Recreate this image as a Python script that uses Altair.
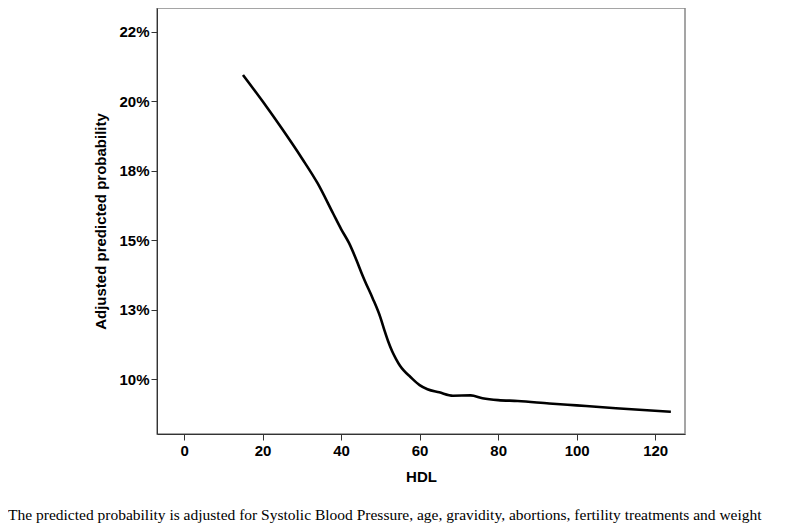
import altair as alt
import pandas as pd

hdl = [15, 20, 25, 30, 34, 38, 40, 42, 44, 45.2, 46, 48, 50, 51, 52, 53, 54, 55, 56,
       57.6, 60, 62, 65, 68.5, 73, 76, 80, 85, 93, 100, 110, 124]
prob = [0.2095, 0.2000, 0.1900, 0.1795, 0.1705, 0.1595, 0.1540, 0.1490, 0.1425,
        0.1382, 0.1355, 0.1292, 0.1222, 0.1177, 0.1135, 0.1100, 0.1072, 0.1048,
        0.1030, 0.1008, 0.0978, 0.0963, 0.0952, 0.0940, 0.0941, 0.0931, 0.0924,
        0.0921, 0.0912, 0.0905, 0.0895, 0.0882]

x_ticks = [0, 20, 40, 60, 80, 100, 120]
y_ticks = [0.100, 0.125, 0.150, 0.175, 0.200, 0.225]
y_labels = ["10%", "13%", "15%", "18%", "20%", "22%"]

caption = ("The predicted probability is adjusted for Systolic Blood Pressure, age, "
           "gravidity, abortions, fertility treatments and weight")

df = pd.DataFrame({"HDL": hdl, "prob": prob})

label_expr = " : ".join(
    f"abs(datum.value - {v}) < 0.001 ? '{l}'" for v, l in zip(y_ticks, y_labels)
) + " : ''"

font = "Liberation Sans"

chart = alt.Chart(df).mark_line(color="black", strokeWidth=2.6,
                                interpolate="monotone").encode(
    x=alt.X("HDL:Q", scale=alt.Scale(domain=[-6.9, 127.6], nice=False, zero=False),
            axis=alt.Axis(values=x_ticks, title="HDL", grid=False, tickSize=6,
                          labelFont=font, labelFontSize=15, labelFontWeight="bold",
                          labelColor="black", titleFont=font, titleFontSize=15,
                          titleFontWeight="bold", titleColor="black", titlePadding=11,
                          domainColor="#333", tickColor="#333", labelPadding=3)),
    y=alt.Y("prob:Q", scale=alt.Scale(domain=[0.0802, 0.2336], nice=False, zero=False),
            axis=alt.Axis(values=y_ticks, labelExpr=label_expr,
                          title="Adjusted predicted probability", grid=False, tickSize=6,
                          labelFont=font, labelFontSize=15, labelFontWeight="bold",
                          labelColor="black", titleFont=font, titleFontSize=15,
                          titleFontWeight="bold", titleColor="black", titlePadding=10,
                          domainColor="#333", tickColor="#333", labelPadding=2)),
).properties(
    width=528,
    height=426,
    autosize=alt.AutoSizeParams(type="none"),
    padding={"left": 149, "top": 0, "right": 98, "bottom": 89},
    title=alt.TitleParams(text=caption, orient="bottom", anchor="start", frame="group",
                          dx=-149, offset=24, font="Liberation Serif", fontSize=15.5,
                          fontWeight="normal", color="black"),
).configure_view(stroke="#888", strokeWidth=1.5)

chart.save("out.html", embed_options={"renderer": "svg", "actions": False})
